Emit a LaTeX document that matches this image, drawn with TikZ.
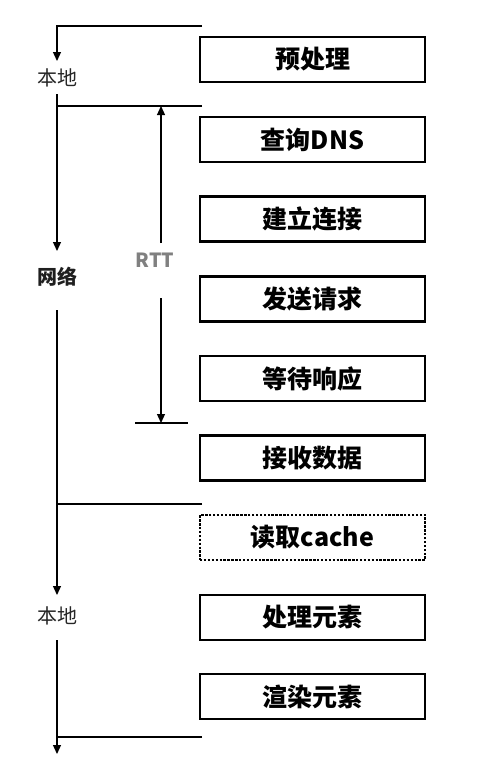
\documentclass[tikz,border=0pt]{standalone}
\usepackage{fontspec}
\setmainfont{Noto Sans CJK SC}
\usetikzlibrary{arrows.meta}
\begin{document}
\begin{tikzpicture}[x=1pt,y=-1pt,
  box/.style={draw=black, line width=2.4pt, minimum width=225pt, minimum height=45pt, inner sep=0pt, font=\bfseries\fontsize{25}{25}\selectfont},
  dotbox/.style={box, dash pattern=on 2.4pt off 1.5pt, line width=2.6pt},
  conn/.style={draw=black, line width=1.2pt},
  arr/.style={conn, -{Triangle[width=8pt,length=9pt]}},
  lbl/.style={inner sep=0pt, text=black!85, font=\fontsize{20}{20}\selectfont},
  rtt/.style={inner sep=0pt, text=black!50, font=\bfseries\fontsize{19.5}{19.5}\selectfont}
]
\useasboundingbox (0,0) rectangle (487,782);
% boxes
\node[box] (b1) at (312.5,59.5) {预处理};
\node[box] (b2) at (312.5,139.5) {查询DNS};
\node[box] (b3) at (312.5,219) {建立连接};
\node[box] (b4) at (312.5,299) {发送请求};
\node[box] (b5) at (312.5,378.5) {等待响应};
\node[box] (b6) at (312.5,458) {接收数据};
\node[dotbox] (b7) at (312.5,537.5) {读取cache};
\node[box] (b8) at (312.5,617.5) {处理元素};
\node[box] (b9) at (312.5,696.5) {渲染元素};
% labels
\node[lbl] (l1) at (57,78) {本地};
\node[lbl, text=black!88, font=\bfseries\fontsize{20}{20}\selectfont] (l2) at (57,277) {网络};
\node[lbl] (l3) at (57,616) {本地};
\node[rtt] (r) at (155,260) {RTT};
% free ends
\coordinate (h1) at (202,26);
\coordinate (h2) at (202,106);
\coordinate (h3) at (202,504);
\coordinate (h4) at (202,737);
\coordinate (v1) at (57,61);
\coordinate (v2) at (57,251);
\coordinate (v3) at (57,595);
\coordinate (v4) at (57,754);
\coordinate (s1) at (57,94);
\coordinate (s2) at (57,310);
\coordinate (s3) at (57,640);
\coordinate (rt) at (161,106);
\coordinate (rb) at (161,423);
\coordinate (rs1) at (161,243);
\coordinate (rs2) at (161,298);
\coordinate (rl) at (135,423);
\coordinate (rr) at (188,423);
% connectors
\draw[arr] (h1) -| (v1);
\draw[conn] (h2) -- (s1 |- h2);
\draw[arr] (s1) -- (v2);
\draw[conn] (h3) -- (s1 |- h3);
\draw[arr] (s2) -- (v3);
\draw[conn] (h4) -- (s1 |- h4);
\draw[arr] (s3) -- (v4);
\draw[arr] (rs1) -- (rt);
\draw[arr] (rs2) -- (rb);
\draw[conn] (rl) -- (rr);
\end{tikzpicture}
\end{document}
